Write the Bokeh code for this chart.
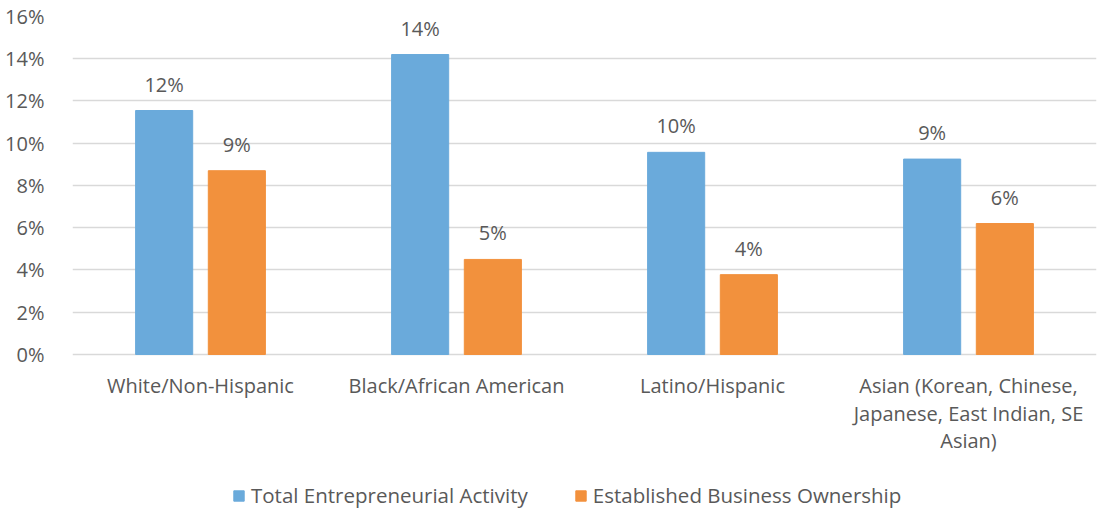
from bokeh.plotting import figure
from bokeh.models import FactorRange, ColumnDataSource, LabelSet, Legend, LegendItem, FixedTicker
from bokeh.transform import dodge
from bokeh.core.properties import value
from bokeh.embed import file_html
from bokeh.resources import INLINE

categories = [
    "White/Non-Hispanic",
    "Black/African American",
    "Latino/Hispanic",
    "Asian (Korean, Chinese,\nJapanese, East Indian, SE\nAsian)",
]
total_activity = [11.55, 14.2, 9.57, 9.25]
established = [8.7, 4.5, 3.78, 6.2]
total_labels = ["12%", "14%", "10%", "9%"]
established_labels = ["9%", "5%", "4%", "6%"]
series_names = ["Total Entrepreneurial Activity", "Established Business Ownership"]
y_ticks = [0, 2, 4, 6, 8, 10, 12, 14, 16]
y_tick_labels = ["0%", "2%", "4%", "6%", "8%", "10%", "12%", "14%", "16%"]

BLUE = "#6aaadb"
ORANGE = "#f2913d"
TEXT = "#595959"
FONT = "Open Sans"
FS = "20px"
LINE_STEP = 27.5

src = ColumnDataSource(dict(cat=categories, tea=total_activity, ebo=established,
                            tea_lbl=total_labels, ebo_lbl=established_labels))

# one row per line of each category label, so every line is centred
cat_rows = dict(cat=[], line=[], zero=[], off=[])
for c in categories:
    for i, part in enumerate(c.split("\n")):
        cat_rows["cat"].append(c)
        cat_rows["line"].append(part)
        cat_rows["zero"].append(0)
        cat_rows["off"].append(-18 - i * LINE_STEP)
cat_src = ColumnDataSource(cat_rows)

# frame spans the full height below the top border; the value axis 0..16 occupies
# the upper 338 px, the rest (below zero) holds category labels and legend
p = figure(x_range=FactorRange(*categories), y_range=(-7.385, 16),
           width=1098, height=510, output_backend="svg", toolbar_location=None,
           min_border_left=72, min_border_right=2, min_border_top=16, min_border_bottom=0)
p.outline_line_color = None

r1 = p.vbar(x=dodge("cat", -0.142, range=p.x_range), top="tea", width=0.223, source=src,
            fill_color=BLUE, line_color=BLUE)
r2 = p.vbar(x=dodge("cat", 0.142, range=p.x_range), top="ebo", width=0.223, source=src,
            fill_color=ORANGE, line_color=ORANGE)

for xoff, field, lbl in [(-0.142, "tea", "tea_lbl"), (0.142, "ebo", "ebo_lbl")]:
    p.add_layout(LabelSet(x=dodge("cat", xoff, range=p.x_range), y=field, text=lbl, source=src,
                          y_offset=19, text_align="center", text_baseline="alphabetic",
                          text_font=value(FONT), text_font_size=FS, text_color=TEXT))

# category labels below the baseline
p.add_layout(LabelSet(x="cat", y="zero", text="line", source=cat_src,
                      y_offset="off", text_align="center", text_baseline="top",
                      text_font=value(FONT), text_font_size=FS, text_color=TEXT))

p.yaxis.ticker = FixedTicker(ticks=y_ticks)
p.yaxis.major_label_overrides = {t: l for t, l in zip(y_ticks, y_tick_labels)}
p.yaxis.axis_line_color = None
p.yaxis.major_tick_line_color = None
p.yaxis.minor_tick_line_color = None
p.yaxis.major_label_text_font = FONT
p.yaxis.major_label_text_font_size = FS
p.yaxis.major_label_text_color = TEXT
p.yaxis.major_label_standoff = 22

p.xaxis.visible = False

p.xgrid.grid_line_color = None
p.ygrid.grid_line_color = "#d9d9d9"
p.ygrid.grid_line_width = 1.5

legend = Legend(items=[LegendItem(label=series_names[0], renderers=[r1]),
                       LegendItem(label=series_names[1], renderers=[r2])],
                orientation="horizontal", location=(160, 1),
                glyph_width=13, glyph_height=13, label_standoff=6, spacing=46,
                label_text_font=FONT, label_text_font_size="20.5px", label_text_color=TEXT,
                border_line_color=None, background_fill_alpha=0, margin=0, padding=0)
p.add_layout(legend, "center")

open("out.html", "w").write(file_html(p, INLINE))
